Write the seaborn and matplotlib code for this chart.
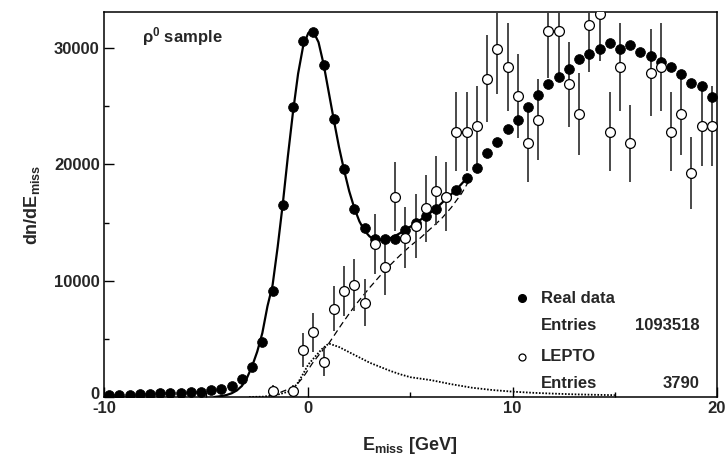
import numpy as np
import pandas as pd
import matplotlib
matplotlib.use("Agg")
import matplotlib.pyplot as plt
import matplotlib.transforms as mtransforms
import seaborn as sns

# ---------------- data ----------------
real_x = [-9.75, -9.25, -8.75, -8.25, -7.75, -7.25, -6.75, -6.25, -5.75, -5.25,
          -4.75, -4.25, -3.75, -3.25, -2.75, -2.25, -1.75, -1.25, -0.75, -0.25,
          0.25, 0.75, 1.25, 1.75, 2.25, 2.75, 3.25, 3.75, 4.25, 4.75,
          5.25, 5.75, 6.25, 6.75, 7.25, 7.75, 8.25, 8.75, 9.25, 9.75,
          10.25, 10.75, 11.25, 11.75, 12.25, 12.75, 13.25, 13.75, 14.25, 14.75,
          15.25, 15.75, 16.25, 16.75, 17.25, 17.75, 18.25, 18.75, 19.25, 19.75]
real_y = [170, 180, 200, 250, 280, 310, 320, 370, 450, 470,
          570, 690, 950, 1520, 2610, 4700, 9110, 16500, 24900, 30640,
          31360, 28570, 23930, 19580, 16170, 14500, 13560, 13560, 13560, 14360,
          14990, 15540, 16170, 17200, 17800, 18830, 19690, 20950, 21900, 23020,
          23840, 24960, 25940, 26940, 27510, 28170, 29060, 29490, 29950, 30410,
          29920, 30270, 29660, 29350, 28800, 28350, 27770, 27000, 26770, 25770]

lepto_x = [-1.75, -0.75, -0.25, 0.25, 0.75, 1.25, 1.75, 2.25, 2.75, 3.25,
           3.75, 4.25, 4.75, 5.25, 5.75, 6.25, 6.75, 7.25, 7.75, 8.25,
           8.75, 9.25, 9.75, 10.25, 10.75, 11.25, 11.75, 12.25, 12.75, 13.25,
           13.75, 14.25, 14.75, 15.25, 15.75, 16.75, 17.25, 17.75, 18.25, 18.75,
           19.25, 19.75]
lepto_y = [507, 507, 4056, 5577, 3042, 7605, 9126, 9633, 8112, 13182,
           11154, 17238, 13689, 14703, 16224, 17745, 17238, 22815, 22815, 23322,
           27378, 29913, 28392, 25857, 21801, 23829, 31434, 31434, 26871, 24336,
           31941, 32955, 22815, 28392, 21801, 27885, 28392, 22815, 24336, 19266,
           23322, 23322]
lepto_err = [507, 507, 1434, 1682, 1242, 1964, 2151, 2210, 2028, 2585,
             2378, 2956, 2634, 2730, 2868, 2999, 2956, 3401, 3401, 3439,
             3726, 3894, 3794, 3621, 3325, 3476, 3992, 3992, 3691, 3513,
             4024, 4088, 3401, 3794, 3325, 3760, 3794, 3401, 3513, 3125,
             3439, 3439]

# fit curves
fit_x = [-4.6, -4.25, -4.0, -3.75, -3.5, -3.25, -3.0, -2.75, -2.5, -2.25,
         -2.0, -1.75, -1.5, -1.25, -1.0, -0.75, -0.5, -0.25, 0.0, 0.25,
         0.5, 0.75, 1.0, 1.25, 1.5, 1.75, 2.0, 2.25, 2.5, 2.75,
         3.0, 3.25, 3.5, 3.75, 4.0, 4.25, 4.75, 5.25, 5.75, 6.25,
         6.75, 7.25, 7.75]
fit_y = [0, 80, 170, 320, 560, 950, 1650, 2650, 3900, 5500,
         7800, 9600, 12900, 16600, 20700, 24500, 27800, 30200, 31300, 31400,
         30500, 28600, 26200, 23800, 21500, 19500, 17700, 16250, 15100, 14300,
         13800, 13550, 13480, 13520, 13650, 13850, 14350, 14950, 15550, 16200,
         17050, 17850, 18800]

bkg_x = [-1.8, -1.3, -0.65, -0.25, 0.2, 0.6, 1.0, 1.65, 2.3, 3.0,
         3.75, 4.5, 5.0, 5.5, 6.0, 6.5, 7.0, 7.5, 7.8]
bkg_y = [0, 450, 900, 1700, 2900, 3800, 4600, 6300, 7900, 9400,
         10900, 12200, 13000, 13700, 14500, 15300, 16300, 17500, 18400]

lfit_x = [-2.9, -2.2, -1.5, -1.0, -0.75, -0.5, -0.25, 0.0, 0.35, 0.65,
          1.0, 1.5, 2.0, 2.5, 3.0, 3.5, 4.0, 4.5, 5.0, 6.0,
          7.0, 8.0, 9.0, 10.0, 11.0, 12.0, 13.0, 14.0, 15.0]
lfit_y = [0, 30, 200, 450, 700, 1250, 2000, 2800, 3500, 4100,
          4600, 4300, 3850, 3400, 2950, 2600, 2250, 1950, 1700, 1450,
          1100, 800, 600, 460, 360, 290, 230, 190, 160]

x_ticks = [-10, 0, 10, 20]
y_ticks = [0, 10000, 20000, 30000]

# ---------------- style ----------------
sns.set_theme(style="white")
plt.rcParams['font.family'] = ['Liberation Sans', 'DejaVu Sans']
plt.rcParams['mathtext.fontset'] = 'custom'
plt.rcParams['mathtext.rm'] = 'Liberation Sans'
plt.rcParams['mathtext.bf'] = 'Liberation Sans:bold'
plt.rcParams['mathtext.it'] = 'Liberation Sans:italic'
plt.rcParams['mathtext.sf'] = 'Liberation Sans'

fig = plt.figure(figsize=(7.25, 4.57), dpi=100)
ax = fig.add_axes([0.1434, 0.1313, 0.8456, 0.8424])

real_df = pd.DataFrame({"x": real_x, "y": real_y})
lepto_df = pd.DataFrame({"x": lepto_x, "y": lepto_y, "err": lepto_err})
fit_df = pd.DataFrame({"x": fit_x, "y": fit_y})
bkg_df = pd.DataFrame({"x": bkg_x, "y": bkg_y})
lfit_df = pd.DataFrame({"x": lfit_x, "y": lfit_y})

# curves
sns.lineplot(data=lfit_df, x="x", y="y", ax=ax, color="black", lw=1.3,
             linestyle=(0, (0.9, 0.9)), sort=False, estimator=None, zorder=2)
sns.lineplot(data=bkg_df, x="x", y="y", ax=ax, color="black", lw=0.9,
             linestyle=(0, (5, 3)), sort=False, estimator=None, zorder=2)

# lepto error bars
ax.vlines(lepto_df["x"], lepto_df["y"] - lepto_df["err"], lepto_df["y"] + lepto_df["err"],
          colors="#3a3a3a", lw=1.3, zorder=3)

# real data points
sns.scatterplot(data=real_df, x="x", y="y", ax=ax, color="black", s=50,
                edgecolor="black", linewidth=0.5, zorder=4)
sns.lineplot(data=fit_df, x="x", y="y", ax=ax, color="black", lw=1.6,
             sort=False, estimator=None, zorder=5)
# lepto points
sns.scatterplot(data=lepto_df, x="x", y="y", ax=ax, facecolor="white", s=50,
                edgecolor="black", linewidth=0.9, zorder=6)

ax.set_xlim(-10, 20)
ax.set_ylim(0, 33100)
ax.set_xticks(x_ticks)
ax.set_yticks(y_ticks)
ax.set_xticks([-5, 5, 15], minor=True)
ax.set_yticks([5000, 15000, 25000], minor=True)
ax.set_xticklabels([str(t) for t in x_ticks])
ax.set_yticklabels([str(t) for t in y_ticks])
ax.tick_params(which="both", direction="in", bottom=True, left=True, top=False, right=False,
               width=1.0, color="black")
ax.tick_params(which="major", length=7)
ax.tick_params(which="minor", length=3.5)
ax.tick_params(axis="x", which="major", labelsize=12, pad=3)
ax.tick_params(axis="y", which="major", labelsize=12, pad=3)
for lab in ax.get_xticklabels() + ax.get_yticklabels():
    lab.set_fontweight("bold")
# lift the y "0" label slightly, as in the reference
ylabs = ax.get_yticklabels()
ylabs[0].set_transform(ylabs[0].get_transform() +
                       mtransforms.ScaledTranslation(0, 4 / 100, fig.dpi_scale_trans))
for sp in ax.spines.values():
    sp.set_color("black")
    sp.set_linewidth(1.1)

ax.set_xlabel("")
ax.set_ylabel("")
fig.text(410 / 725, 1 - 445 / 457, r"$\mathbf{E_{miss}}$ [GeV]", ha="center", va="center",
         fontsize=13, fontweight="bold")
fig.text(32 / 725, 1 - 205 / 457, r"$\mathbf{dn/dE_{miss}}$", ha="center", va="center",
         fontsize=13, fontweight="bold", rotation=90)

# sample label
ax.text(0.062, 0.935, r"ρ$^{\mathbf{0}}$ sample", transform=ax.transAxes,
        fontsize=12, fontweight="bold", ha="left", va="center")

# legend (drawn by hand, ROOT style)
ax.plot([0.682], [0.257], marker="o", ms=5.5, color="black", transform=ax.transAxes,
        clip_on=False, zorder=7)
ax.plot([0.682], [0.104], marker="o", ms=5, mfc="white", mec="black", mew=0.9,
        transform=ax.transAxes, clip_on=False, zorder=7)
leg_kw = dict(transform=ax.transAxes, fontsize=12, fontweight="bold", va="center")
ax.text(0.713, 0.257, "Real data", ha="left", **leg_kw)
ax.text(0.713, 0.187, "Entries", ha="left", **leg_kw)
ax.text(0.972, 0.187, "1093518", ha="right", **leg_kw)
ax.text(0.713, 0.104, "LEPTO", ha="left", **leg_kw)
ax.text(0.713, 0.034, "Entries", ha="left", **leg_kw)
ax.text(0.972, 0.034, "3790", ha="right", **leg_kw)

fig.savefig("out.png", dpi=100)
